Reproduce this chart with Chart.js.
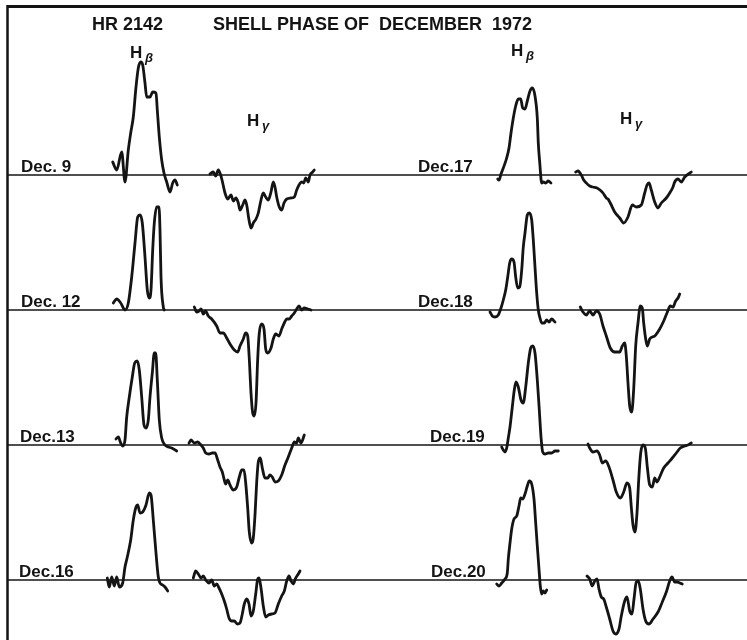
<!DOCTYPE html>
<html>
<head>
  <title>HR 2142 shell phase</title>
  <style>
    body { margin: 0; padding: 0; background: #fff; }
    #wrap { width: 747px; height: 640px; }
  </style>
</head>
<body>
  <div id="wrap"><canvas id="profiles" width="747" height="640"></canvas></div>

  <script src="https://cdn.jsdelivr.net/npm/chart.js"></script>
  <script>
    // observation dates, left column then right column
    const dates = ["Dec. 9", "Dec. 12", "Dec.13", "Dec.16", "Dec.17", "Dec.18", "Dec.19", "Dec.20"];
    const lineNames = ["H", "H"];
    const lineSubs = ["\u03b2", "\u03b3"];

    // profiles: [wavelength position, intensity above continuum]
    const hb9 = [[112.7,13],[116.7,5],[121.7,23],[125,-7],[128.3,25],[130.7,42],[133.3,58],[136,88],[138.3,107],[140.7,113],[142.7,110],[145,92],[146.7,78],[150,78],[152.7,83],[156,82],[157.3,65],[159.3,38],[161.7,15],[164,2],[166.7,-7],[170,-17],[172.7,-8],[175,-5],[177.3,-10]];
    const hb12 = [[113.3,7],[116.7,11],[120.7,7],[125,0],[128.3,7],[131.7,33],[135,67],[137.7,93],[140,95],[142.3,87],[145,53],[147.3,20],[149.3,12],[151,20],[152.7,60],[154.3,87],[156.7,103],[159,103],[160,80],[161,33],[163.3,3],[164.3,0]];
    const hb13 = [[116,6],[118.3,8],[120.7,2],[122.7,-1],[125,5],[126.7,28],[129.3,48],[132.3,68],[134.7,82],[137.3,84],[139.3,75],[141.7,48],[144,20],[146,17],[148.3,25],[150,48],[152.3,72],[154.3,92],[155.7,92],[157.3,65],[159.3,25],[161.7,7],[165,0],[168.3,-2],[171.7,-3],[176.7,-6]];
    const hb16 = [[107.3,2],[109.3,-7],[111.7,3],[114.3,-6],[116.7,3],[119.3,-7],[122.7,-3],[125,13],[127.3,23],[130.7,40],[133.3,60],[136,73],[137.7,75],[140,67],[142.7,68],[146,75],[149.3,87],[151,85],[153.3,60],[156,27],[158.3,3],[160,-3],[162.7,-5],[165,-7],[167.7,-11]];
    const hb17 = [[497.7,-4],[499,-5],[501,1],[503.3,7],[506.7,17],[509,27],[511,42],[513.3,57],[515.7,69],[518.3,76],[520.7,76],[522.7,67],[525,66],[527.3,74],[530,84],[532.3,87],[535,79],[537.3,57],[538.3,32],[540,9],[541,-4],[541.7,-8],[543.3,-7],[545.7,-8],[548.3,-6],[551,-8]];
    const hb18 = [[490,-2],[492.3,-6],[495,-7],[498.3,-5],[501,2],[503.3,10],[505.7,20],[507.7,33],[509.7,47],[511.7,51],[514,48],[515.7,33],[517.7,22],[519.7,23],[521.7,40],[523.3,63],[525,77],[527.3,95],[529.3,97],[531.7,90],[533.3,70],[535,43],[536.7,17],[538.3,0],[540,-8],[541.7,-13],[544.3,-13],[546.7,-10],[549,-12],[551.7,-9],[555,-12]];
    const hb19 = [[501.7,-2],[503.3,-5],[505,-7],[506.7,-3],[508.3,7],[510,18],[512.3,38],[514.3,55],[516,63],[518.3,58],[521,45],[523.3,42],[525.7,58],[528.3,82],[530.7,97],[532.7,99],[535,92],[537.3,65],[539.3,35],[541,8],[542.7,-7],[545,-9],[548.3,-8],[551.7,-8],[555,-6],[558.3,-6]];
    const hb20 = [[496.7,-4],[499,-6],[501.7,-3],[505,1],[507.3,7],[508.3,21],[510,37],[511.7,51],[514,61],[516.7,64],[519,74],[520.7,82],[522.7,81],[525,86],[527.3,94],[529.3,99],[531.7,96],[534,81],[535.7,57],[537.3,34],[539,11],[540.3,-6],[541.7,-14],[543.3,-11],[545,-13],[546.7,-10]];

    const hg9 = [[210,1],[213.3,3],[215.7,-1],[218.3,5],[220.7,0],[222.7,-8],[225,-18],[227.7,-24],[231,-20],[233.3,-26],[236,-23],[238.3,-28],[240,-35],[242.7,-30],[245,-25],[246.7,-30],[249,-45],[251,-53],[253.3,-48],[256,-44],[258.3,-38],[261,-25],[263.3,-18],[265.7,-22],[268.3,-25],[271,-17],[273.3,-7],[275,-12],[276.7,-22],[279.3,-32],[281.7,-35],[284,-28],[286.7,-24],[291,-23],[294.3,-22],[296.7,-15],[299,-10],[301.7,-7],[303.7,-8],[305.7,-3],[308.3,-7],[310,0],[312.7,3],[314.3,5]];
    const hg12 = [[194.3,3],[196.7,-2],[199,-1],[201,1],[203.3,-4],[205.7,-1],[208.3,-6],[211.7,-9],[216.7,-16],[220,-23],[223.3,-23],[226.7,-28],[230,-34],[234.3,-40],[237.7,-42],[240,-36],[243.3,-29],[245.7,-23],[247.7,-26],[249.3,-49],[251,-83],[252.7,-103],[254.3,-106],[256,-93],[257.7,-49],[259.3,-23],[261.7,-14],[264,-19],[265.7,-39],[267.7,-43],[271,-38],[273.3,-29],[275.7,-24],[279,-26],[281.7,-19],[284.3,-13],[286.7,-9],[289.3,-9],[291.7,-6],[294.3,-3],[296.7,1],[299,4],[301.7,0],[304.3,2],[307.7,1],[311,0]];
    const hg13 = [[189,2],[191,5],[194.3,2],[197.7,3],[201,0],[203.3,-3],[205.7,-8],[209,-9],[212.3,-8],[215,-8],[217.7,-15],[220,-22],[222.3,-27],[224.3,-35],[225.7,-39],[227.7,-35],[230,-40],[233.3,-45],[236.7,-42],[239.3,-32],[241.7,-25],[244,-25],[245.7,-38],[247.7,-63],[249.3,-87],[251.7,-98],[253.3,-93],[255,-70],[256.7,-37],[258.3,-17],[260.3,-13],[262.3,-23],[265,-33],[267.7,-33],[270,-30],[272.3,-32],[275,-37],[278.3,-36],[281.7,-30],[285,-20],[288.3,-12],[291.7,-3],[294.3,3],[296.7,2],[298.3,7],[301,2],[304.3,10]];
    const hg16 = [[193.3,2],[195.7,9],[198.3,6],[201,2],[203.3,4],[205.7,0],[209,-3],[211.7,0],[214.3,-6],[216.7,-4],[219,-8],[221.7,-14],[224.3,-21],[226.7,-29],[229,-38],[231.7,-41],[234.3,-41],[237.3,-44],[240,-43],[242.3,-34],[244.3,-24],[246.7,-19],[249,-24],[251,-36],[253.3,-31],[255.7,-14],[257.7,1],[259,2],[261,-8],[263.3,-26],[265.7,-37],[268.3,-35],[271.7,-34],[275,-33],[278.3,-24],[281.7,-16],[284.3,-11],[286.7,-1],[289,4],[291,-1],[293.3,-4],[295.7,2],[298.3,6],[300,9]];
    const hg17 = [[575.7,3],[578,4],[581.3,0],[583.7,-5],[586.3,-8],[589.7,-11],[593,-12],[597,-13],[600,-15],[603,-18],[606.3,-23],[608,-24],[610.3,-28],[614.7,-37],[619.7,-43],[623.7,-48],[628,-42],[632.3,-30],[636.3,-32],[641.3,-30],[644.7,-18],[647,-10],[649,-8],[651.3,-15],[654.7,-27],[658,-33],[661.3,-28],[666.3,-23],[669.7,-18],[673,-12],[674.7,-7],[678,-4],[681.3,-7],[684.7,-2],[691.3,3]];
    const hg18 = [[580.3,3],[583,-2],[586.3,-5],[589.7,-1],[593,-5],[596.3,-1],[599.7,-4],[603,-16],[606.3,-26],[610.3,-38],[614.7,-42],[619.7,-42],[622.3,-36],[624.7,-33],[626.3,-46],[628,-73],[629.7,-96],[631.7,-102],[633.7,-79],[635.7,-36],[638,-13],[640.3,4],[642.3,2],[643.7,-13],[645.7,-29],[647.3,-36],[649.7,-29],[654.7,-26],[659.7,-19],[663.7,-11],[667,-3],[670.3,4],[673,3],[675.7,9],[678,12],[679.7,16]];
    const hg19 = [[588,1],[589.7,-3],[593,-7],[597,-6],[599.7,-10],[602.3,-18],[605.7,-16],[609,-22],[613,-35],[616.3,-47],[620.3,-53],[623.7,-47],[627,-38],[629.7,-43],[631.3,-62],[633,-80],[635,-87],[637,-68],[638.7,-35],[640.7,-8],[643,0],[645.3,-3],[647.3,-22],[649.7,-40],[652.3,-42],[654.7,-33],[657,-37],[659.7,-32],[663.7,-23],[668,-18],[672.3,-13],[676.3,-8],[680.3,-3],[684.7,-1],[688,0],[691.3,2]];
    const hg20 = [[587,4],[589.7,1],[592.3,-6],[594.7,-1],[597,1],[599,-9],[601.3,-17],[603.7,-19],[606.3,-27],[609.7,-39],[613,-51],[615.7,-54],[619,-49],[621.3,-36],[624.7,-21],[627,-17],[629.7,-31],[632,-34],[634,-19],[636.3,-2],[638.3,-1],[640.3,-9],[643,-29],[645.7,-41],[649,-44],[653,-39],[658,-32],[662.3,-22],[666.3,-12],[669.7,-1],[672,3],[674.7,-2],[677,-2],[679.7,-3],[682.3,-4]];

    const betaProfiles = [hb9, hb12, hb13, hb16, hb17, hb18, hb19, hb20];
    const gammaProfiles = [hg9, hg12, hg13, hg16, hg17, hg18, hg19, hg20];

    // continuum level of each row (scale units, y grows downward)
    const rowLevel = [175, 310, 445, 580];
    const ink = "#141414";

    function toPoints(profile, level) {
      return profile.map(p => ({ x: p[0], y: level - p[1] }));
    }

    function segment(x0, y0, x1, y1, w) {
      return {
        data: [{ x: x0, y: y0 }, { x: x1, y: y1 }],
        borderColor: ink, borderWidth: w, pointRadius: 0, showLine: true, tension: 0
      };
    }

    const datasets = [];
    // frame and continuum lines
    datasets.push(segment(7, 6.5, 747, 6.5, 3));
    datasets.push(segment(7.5, 5, 7.5, 640, 2.5));
    rowLevel.forEach(lv => datasets.push(segment(7, lv, 747, lv, 1.6)));

    betaProfiles.concat(gammaProfiles).forEach((prof, i) => {
      datasets.push({
        data: toPoints(prof, rowLevel[i % 4]),
        borderColor: ink,
        borderWidth: 2.8,
        pointRadius: 0,
        showLine: true,
        cubicInterpolationMode: "monotone",
        borderJoinStyle: "round",
        borderCapStyle: "round"
      });
    });

    const labelPlugin = {
      id: "labels",
      afterDraw(chart) {
        const c = chart.ctx;
        const sx = chart.scales.x, sy = chart.scales.y;
        const px = v => sx.getPixelForValue(v);
        const py = v => sy.getPixelForValue(v);
        c.save();
        c.fillStyle = ink;
        c.textBaseline = "alphabetic";
        c.font = "bold 18px 'Liberation Sans', Arial, sans-serif";
        c.fillText("HR 2142", px(92), py(30));
        c.fillText("SHELL PHASE OF  DECEMBER  1972", px(213), py(30));

        // line identifications above each column
        const heads = [[130, 58, 0], [247, 126, 1], [511, 56, 0], [620, 124, 1]];
        heads.forEach(h => {
          c.font = "bold 17px 'Liberation Sans', Arial, sans-serif";
          c.fillText(lineNames[h[2]], px(h[0]), py(h[1]));
          c.font = "bold italic 13px 'Liberation Sans', Arial, sans-serif";
          c.fillText(lineSubs[h[2]], px(h[0] + 15), py(h[1] + 4));
        });

        c.font = "bold 17px 'Liberation Sans', Arial, sans-serif";
        const dateX = [21, 21, 20, 19, 418, 418, 430, 431];
        dates.forEach((d, i) => {
          c.fillText(d, px(dateX[i]), py(rowLevel[i % 4] - 3));
        });
        c.restore();
      }
    };

    new Chart(document.getElementById("profiles"), {
      type: "scatter",
      data: { datasets: datasets },
      options: {
        responsive: false,
        animation: false,
        devicePixelRatio: 1,
        layout: { padding: 0 },
        plugins: { legend: { display: false }, tooltip: { enabled: false } },
        scales: {
          x: { type: "linear", min: 0, max: 747, display: false },
          y: { type: "linear", min: 0, max: 640, reverse: true, display: false }
        }
      },
      plugins: [labelPlugin]
    });
  </script>
</body>
</html>
